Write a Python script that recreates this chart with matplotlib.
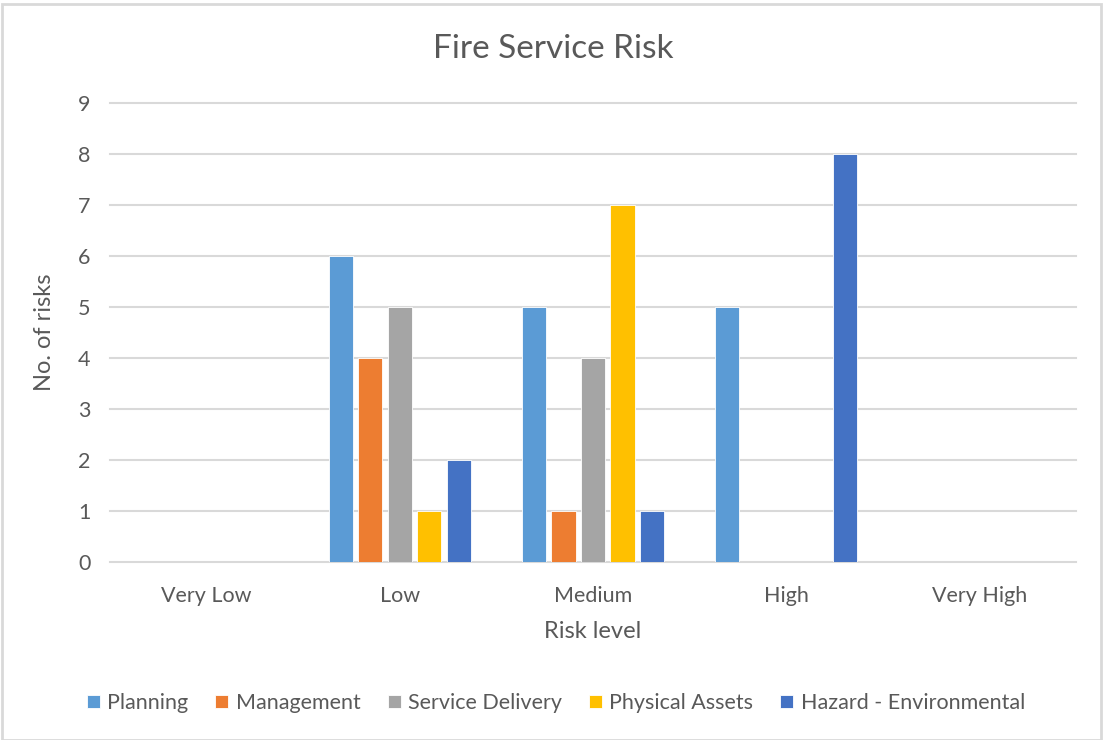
import matplotlib
matplotlib.use("Agg")
import matplotlib.pyplot as plt
import numpy as np
from matplotlib.patches import Rectangle

plt.rcParams['font.family'] = ['Lato', 'DejaVu Sans']

# data
risk_levels = ["Very Low", "Low", "Medium", "High", "Very High"]
series_names = ["Planning", "Management", "Service Delivery", "Physical Assets",
                "Hazard - Environmental"]
planning = [0, 6, 5, 5, 0]
management = [0, 4, 1, 0, 0]
service_delivery = [0, 5, 4, 0, 0]
physical_assets = [0, 1, 7, 0, 0]
hazard_env = [0, 2, 1, 8, 0]
colors = ["#5B9BD5", "#ED7D31", "#A5A5A5", "#FFC000", "#4472C4"]

series = [planning, management, service_delivery, physical_assets, hazard_env]
text_col = "#595959"
grid_col = "#D9D9D9"

fig = plt.figure(figsize=(11.05, 7.4), dpi=100)
ax = fig.add_axes([110 / 1105, 1 - 562 / 740, 966 / 1105, (562 - 103) / 740])

x = np.arange(len(risk_levels))
step = 0.153
width = 0.125
for i, (vals, name, c) in enumerate(zip(series, series_names, colors)):
    ax.bar(x + (i - 2) * step, vals, width, color=c, label=name,
           edgecolor="white", linewidth=0.6, zorder=3)

ax.set_xlim(-0.5, 4.5)
ax.set_ylim(0, 9)
ax.set_yticks(range(10))
ax.set_xticks(x)
ax.set_xticklabels(risk_levels)
ax.tick_params(axis="both", length=0, colors=text_col, labelsize=15.5)
ax.tick_params(axis="x", pad=17)
ax.tick_params(axis="y", pad=14)
for s in ax.spines.values():
    s.set_visible(False)
ax.grid(axis="y", color=grid_col, linewidth=1.5, zorder=0)
for gl in ax.yaxis.get_gridlines():
    gl.set_clip_on(False)

ax.set_xlabel("Risk level", color=text_col, fontsize=17, labelpad=11)
ax.set_ylabel("No. of risks", color=text_col, fontsize=17, labelpad=12)
ax.yaxis.set_label_coords(-55 / 966, 0.5)

fig.text(553 / 1105, 1 - 49 / 740, "Fire Service Risk", ha="center", va="center",
         color=text_col, fontsize=24)

fig.legend(loc="center", bbox_to_anchor=(556 / 1105, 1 - 703 / 740), ncol=5,
           frameon=False, fontsize=15.5, handlelength=0.6, handleheight=0.6,
           handletextpad=0.35, columnspacing=1.25, labelcolor=text_col)

fig.patches.append(Rectangle((2 / 1105, 0), 1099 / 1105, 1 - 4 / 740,
                             transform=fig.transFigure, fill=False,
                             edgecolor=grid_col, linewidth=2))

fig.savefig("out.png", dpi=100, facecolor="white")
